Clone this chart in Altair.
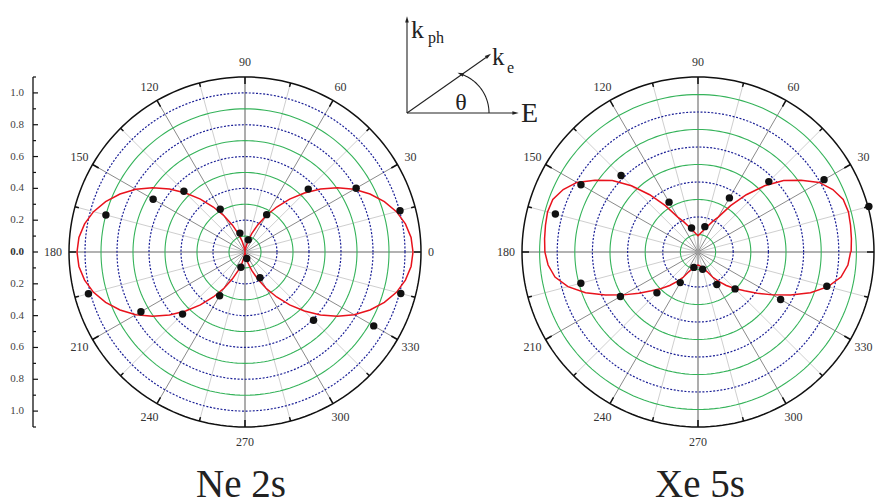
import numpy as np
import pandas as pd
import altair as alt

# ---------------- measured photoelectron angular distributions ----------------
# emission angle theta (degrees) of every measured point
ANGLES = [15, 30, 45, 60, 75, 105, 120, 135, 150, 165,
          195, 210, 225, 240, 255, 285, 300, 315, 330, 345]
NE_POINTS = [1.003, 0.802, 0.559, 0.271, 0.079, 0.123, 0.310, 0.540, 0.663, 0.900,
             1.013, 0.751, 0.552, 0.317, 0.099, 0.042, 0.187, 0.606, 0.929, 1.008]
XE_POINTS = [10.05, 8.27, 5.69, 3.57, 1.50, 1.42, 3.29, 6.18, 7.68, 8.39,
             6.89, 5.09, 3.30, 2.02, 0.91, 1.02, 2.14, 2.98, 5.42, 7.58]

# fitted distributions, one quadrant sampled every 5 degrees (0 .. 90)
FIT_STEP = 5
NE_FIT = [1.050, 1.042, 1.018, 0.980, 0.927, 0.862, 0.788, 0.705, 0.616, 0.525,
          0.434, 0.345, 0.263, 0.188, 0.123, 0.070, 0.032, 0.008, 0.000]
XE_FIT_UPPER = [8.70, 8.75, 8.80, 8.85, 8.78, 8.45, 7.95, 7.15, 6.35, 5.35,
                4.27, 3.23, 2.30, 1.90, 1.55, 1.32, 1.15, 1.02, 0.93]
XE_FIT_LOWER = [8.67, 8.55, 8.25, 7.65, 6.80, 5.80, 4.90, 4.10, 3.45, 2.95,
                2.50, 2.05, 1.65, 1.25, 1.05, 0.92, 0.83, 0.77, 0.74]

ANGLE_LABELS = list(range(0, 360, 30))
AXIS_VALUES = [round(v * 0.1, 1) for v in range(-11, 12)]

# ---------------- layout ----------------
PLOT_LEFT, PLOT_TOP, PLOT_W, PLOT_H = 33, 77, 844, 350
SY = PLOT_H / 2.2          # px per radial unit, vertical
SX = 160.0                 # px per radial unit, horizontal
NE_CENTER_PX, XE_CENTER_PX = 245, 698
CENTER_Y_PX = PLOT_TOP + PLOT_H / 2
X_MIN = -(NE_CENTER_PX - PLOT_LEFT) / SX
X_MAX = X_MIN + PLOT_W / SX


def ux(px):
    return (px - NE_CENTER_PX) / SX


def uy(py):
    return (CENTER_Y_PX - py) / SY


PANELS = {
    "Ne 2s": {"cx": 0.0, "k": 1.0, "rmax": 1.1,
              "green": [0.1, 0.3, 0.5, 0.7, 0.9], "blue": [0.2, 0.4, 0.6, 0.8, 1.0],
              "labels": ANGLE_LABELS},
    # the 0 degree label of the right-hand panel falls beyond the page edge
    "Xe 5s": {"cx": ux(XE_CENTER_PX), "k": 0.11, "rmax": 10.0,
              "green": [1, 3, 5, 7, 9], "blue": [2, 4, 6, 8],
              "labels": ANGLE_LABELS[1:]},
}
FONT = "Liberation Serif"


def to_xy(panel, r, a_deg):
    p = PANELS[panel]
    t = np.radians(a_deg)
    return float(p["cx"] + p["k"] * r * np.cos(t)), float(p["k"] * r * np.sin(t))


# ---------------- tables ----------------
circle_rows = []
for name, p in PANELS.items():
    rings = [("green", r) for r in p["green"]] + [("blue", r) for r in p["blue"]] + [("outer", p["rmax"])]
    for j, (kind, r) in enumerate(rings):
        for i, a in enumerate(range(0, 361, 2)):
            x, y = to_xy(name, r, a)
            circle_rows.append({"cid": f"{name}-{j}", "kind": kind, "i": i, "x": x, "y": y})
circles = pd.DataFrame(circle_rows)

spoke_rows, tick_rows, label_rows = [], [], []
for name, p in PANELS.items():
    for a in range(0, 360, 15):
        x2, y2 = to_xy(name, p["rmax"], a)
        kind = "axis" if a % 90 == 0 else ("major" if a % 30 == 0 else "minor")
        spoke_rows.append({"kind": kind, "x": p["cx"], "y": 0.0, "x2": x2, "y2": y2})
        ln = (7 if a % 30 == 0 else 4) / SY
        x1, y1 = to_xy(name, p["rmax"] - ln / p["k"], a)
        tick_rows.append({"x": x1, "y": y1, "x2": x2, "y2": y2})
    for a in p["labels"]:
        txt = str(a)
        horizontal = abs(np.cos(np.radians(a))) > 0.99
        gap = (7 + 3 * len(txt)) if horizontal else 15
        x, y = to_xy(name, p["rmax"] + gap / SY / p["k"], a)
        label_rows.append({"x": x, "y": y, "text": txt})
spokes = pd.DataFrame(spoke_rows)
outer_ticks = pd.DataFrame(tick_rows)
angle_labels = pd.DataFrame(label_rows)


def full_curve(upper, lower):
    out = []
    for i, a in enumerate(range(0, 361, FIT_STEP)):
        if a <= 180:
            q = a if a <= 90 else 180 - a
            r = upper[q // FIT_STEP]
        else:
            b = 360 - a
            q = b if b <= 90 else 180 - b
            r = lower[q // FIT_STEP]
        out.append((i, a, r))
    return out


curve_rows = []
for name, (up, lo) in {"Ne 2s": (NE_FIT, NE_FIT), "Xe 5s": (XE_FIT_UPPER, XE_FIT_LOWER)}.items():
    for i, a, r in full_curve(up, lo):
        x, y = to_xy(name, r, a)
        curve_rows.append({"panel": name, "i": i, "x": x, "y": y})
curves = pd.DataFrame(curve_rows)

point_rows = []
for name, vals in {"Ne 2s": NE_POINTS, "Xe 5s": XE_POINTS}.items():
    for a, r in zip(ANGLES, vals):
        x, y = to_xy(name, r, a)
        point_rows.append({"panel": name, "angle": a, "r": r, "x": x, "y": y})
points = pd.DataFrame(point_rows)

# left radial scale of the Ne panel: line, ticks and |value| labels
axis_line = pd.DataFrame([{"x": X_MIN, "y": -1.1, "x2": X_MIN, "y2": 1.1}])
axis_ticks = pd.DataFrame({"y": AXIS_VALUES, "y2": AXIS_VALUES})
axis_ticks["x"] = X_MIN
axis_ticks["x2"] = [X_MIN + (5 if round(abs(v) * 10) % 2 == 0 else 3) / SX for v in AXIS_VALUES]
axis_labels = pd.DataFrame([
    {"x": X_MIN - 9 / SX, "y": v, "text": f"{abs(v):.1f}", "zero": v == 0}
    for v in AXIS_VALUES if round(abs(v) * 10) % 2 == 0
])

# geometry sketch: photon direction, polarisation E and electron momentum
O = (407, 113)
sketch_lines = pd.DataFrame([
    {"x": ux(O[0]), "y": uy(O[1]), "x2": ux(O[0]), "y2": uy(22)},
    {"x": ux(O[0]), "y": uy(O[1]), "x2": ux(513), "y2": uy(O[1])},
    {"x": ux(O[0]), "y": uy(O[1]), "x2": ux(486), "y2": uy(57.5)},
])
sketch_heads = pd.DataFrame([
    {"x": ux(O[0]), "y": uy(20), "angle": 0},
    {"x": ux(515), "y": uy(O[1]), "angle": 90},
    {"x": ux(488), "y": uy(56), "angle": 55},
    {"x": ux(461), "y": uy(74), "angle": 290},
])
arc_c, arc_r = (448, 113), 41
sketch_arc = pd.DataFrame([
    {"i": i, "x": ux(arc_c[0] + arc_r * np.cos(np.radians(a))),
     "y": uy(arc_c[1] - arc_r * np.sin(np.radians(a)))}
    for i, a in enumerate(range(0, 71, 2))
])
sketch_text_left = pd.DataFrame([
    {"x": ux(411), "y": uy(38), "text": "k", "size": 26},
    {"x": ux(428), "y": uy(43), "text": "ph", "size": 16},
    {"x": ux(492), "y": uy(65), "text": "k", "size": 25},
    {"x": ux(507), "y": uy(73), "text": "e", "size": 16},
    {"x": ux(521), "y": uy(122), "text": "E", "size": 28},
])
sketch_theta = pd.DataFrame([{"x": ux(461), "y": uy(110), "text": "θ"}])

titles = pd.DataFrame([
    {"x": ux(241), "y": uy(497), "text": "Ne 2s"},
    {"x": ux(700), "y": uy(497), "text": "Xe 5s"},
])

# ---------------- encodings ----------------
xs = alt.Scale(domain=[X_MIN, X_MAX], nice=False, zero=False)
ys = alt.Scale(domain=[-1.1, 1.1], nice=False, zero=False)


def X(f):
    return alt.X(f, type="quantitative", scale=xs, axis=None)


def Y(f):
    return alt.Y(f, type="quantitative", scale=ys, axis=None)


def rules(df, **mark):
    return alt.Chart(df).mark_rule(**mark).encode(
        x=X("x"), y=Y("y"), x2=alt.X2("x2"), y2=alt.Y2("y2"))


def texts(df, **mark):
    return alt.Chart(df).mark_text(**mark).encode(x=X("x"), y=Y("y"), text="text:N")


layers = [
    rules(spokes[spokes.kind == "minor"], color="#cfcfcf", strokeWidth=1),
    rules(spokes[spokes.kind == "major"], color="#8a8a8a", strokeWidth=1),
    rules(spokes[spokes.kind == "axis"], color="#999999", strokeWidth=1.6),
    alt.Chart(circles[circles.kind == "green"]).mark_line(color="#35b35a", strokeWidth=1.1).encode(
        x=X("x"), y=Y("y"), detail="cid:N", order="i:Q"),
    alt.Chart(circles[circles.kind == "blue"]).mark_line(
        color="#1a1f96", strokeWidth=1.2, strokeDash=[2, 1.6]).encode(
        x=X("x"), y=Y("y"), detail="cid:N", order="i:Q"),
    alt.Chart(circles[circles.kind == "outer"]).mark_line(color="#111111", strokeWidth=1.5).encode(
        x=X("x"), y=Y("y"), detail="cid:N", order="i:Q"),
    rules(outer_ticks, color="#111111", strokeWidth=1.5),
    texts(angle_labels, font=FONT, fontSize=12, color="#333333", align="center", baseline="middle"),
    alt.Chart(curves).mark_line(color="#e8121c", strokeWidth=1.5).encode(
        x=X("x"), y=Y("y"), detail="panel:N", order="i:Q"),
    alt.Chart(points).mark_circle(size=55, color="#111111", opacity=1).encode(x=X("x"), y=Y("y")),
    rules(axis_line, color="#111111", strokeWidth=1.3),
    rules(axis_ticks, color="#111111", strokeWidth=1.2),
    texts(axis_labels[~axis_labels.zero], font=FONT, fontSize=11, color="#444444",
          align="right", baseline="middle"),
    texts(axis_labels[axis_labels.zero], font=FONT, fontSize=11, color="#333333",
          fontWeight="bold", align="right", baseline="middle"),
    rules(sketch_lines, color="#222222", strokeWidth=1.1),
    alt.Chart(sketch_arc).mark_line(color="#222222", strokeWidth=1.1).encode(
        x=X("x"), y=Y("y"), order="i:Q"),
    alt.Chart(sketch_heads).mark_point(
        shape="M0,-1L0.5,0.7L-0.5,0.7Z", filled=True, size=55, color="#222222", opacity=1).encode(
        x=X("x"), y=Y("y"), angle=alt.Angle("angle:Q", scale=None)),
    alt.Chart(sketch_text_left).mark_text(font=FONT, color="#222222", align="left",
                                          baseline="alphabetic").encode(
        x=X("x"), y=Y("y"), text="text:N", size=alt.Size("size:Q", scale=None)),
    texts(sketch_theta, font=FONT, fontSize=24, color="#222222", align="center", baseline="alphabetic"),
    texts(titles, font=FONT, fontSize=39, color="#222222", align="center", baseline="alphabetic"),
]

chart = alt.layer(*layers).properties(
    width=PLOT_W, height=PLOT_H,
    autosize=alt.AutoSizeParams(type="none"),
    padding={"left": PLOT_LEFT, "top": PLOT_TOP, "right": 877 - PLOT_LEFT - PLOT_W,
             "bottom": 504 - PLOT_TOP - PLOT_H},
).configure(
    background="white",
    view=alt.ViewConfig(stroke="transparent", strokeWidth=0),
)

chart.save("out.html", embed_options={"renderer": "svg", "actions": False})
